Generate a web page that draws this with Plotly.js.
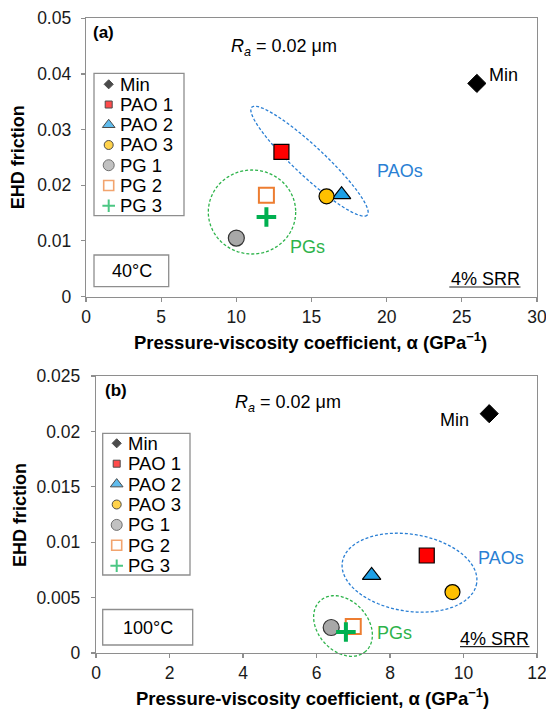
<!DOCTYPE html>
<html>
<head>
<meta charset="utf-8">
<script src="https://cdn.plot.ly/plotly-3.0.1.min.js"></script>
<style>html,body{margin:0;padding:0;background:#fff;}#chart{width:546px;height:709px;}</style>
</head>
<body>
<div id="chart"></div>
<script>
// ---------------- data ----------------
const series = ['Min', 'PAO 1', 'PAO 2', 'PAO 3', 'PG 1', 'PG 2', 'PG 3'];
const alpha40 = [26, 13, 17, 16, 10, 12, 12];
const friction40 = [0.0383, 0.026, 0.0183, 0.018, 0.0105, 0.0182, 0.0143];
const alpha100 = [10.7, 9.0, 7.5, 9.7, 6.4, 7.0, 6.8];
const friction100 = [0.0216, 0.0088, 0.007, 0.0055, 0.0023, 0.0024, 0.0019];

const xTicksA = [0, 5, 10, 15, 20, 25, 30];
const xTickTextA = ['0', '5', '10', '15', '20', '25', '30'];
const yTicksA = [0, 0.01, 0.02, 0.03, 0.04, 0.05];
const yTickTextA = ['0', '0.01', '0.02', '0.03', '0.04', '0.05'];
const xTicksB = [0, 2, 4, 6, 8, 10, 12];
const xTickTextB = ['0', '2', '4', '6', '8', '10', '12'];
const yTicksB = [0, 0.005, 0.01, 0.015, 0.02, 0.025];
const yTickTextB = ['0', '0.005', '0.01', '0.015', '0.02', '0.025'];

// ---------------- styles ----------------
const W = 546, H = 709;
const PX = x => x / W;
const PY = y => 1 - y / H;
const FONT = 'Liberation Sans, Arial, Helvetica, sans-serif';
const GRAY = '#8e8e8e';
const TXT = '#1a1a1a';
const BLUE = '#2a7fd4';
const GREEN = '#2db34a';

const styles = {
  'Min':   {symbol: 'diamond',     color: '#000000', line: '#000000', lw: 1,   size: 14, lsize: 7,  llw: 1},
  'PAO 1': {symbol: 'square',      color: '#ff0000', line: '#000000', lw: 1.2, size: 15, lsize: 7,  llw: 1},
  'PAO 2': {symbol: 'triangle-up', color: '#1ea0e6', line: '#000000', lw: 1.2, size: 16, lsize: 11, llw: 1},
  'PAO 3': {symbol: 'circle',      color: '#ffc000', line: '#000000', lw: 1.2, size: 15, lsize: 9,  llw: 1},
  'PG 1':  {symbol: 'circle',      color: '#a8a8a8', line: '#333333', lw: 1.2, size: 16, lsize: 11, llw: 1},
  'PG 2':  {symbol: 'square-open', color: '#ed7d31', line: '#ed7d31', lw: 2,   size: 15, lsize: 10, llw: 1.6},
  'PG 3':  {symbol: 'cross-thin',  color: '#00b050', line: '#00b050', lw: 4,   size: 14, lsize: 9,  llw: 2}
};

const traces = [];
function addPanel(xs, ys, xa, ya) {
  series.forEach((s, i) => {
    const st = styles[s];
    traces.push({
      type: 'scatter', mode: 'markers', name: s, showlegend: false,
      x: [xs[i]], y: [ys[i]], xaxis: xa, yaxis: ya, cliponaxis: false,
      marker: {symbol: st.symbol, size: st.size, color: st.color, line: {color: st.line, width: st.lw}}
    });
  });
}
addPanel(alpha40, friction40, 'x', 'y');
addPanel(alpha100, friction100, 'x2', 'y2');

// legend markers (drawn on a hidden pixel-space overlay axis)
const annotations = [];
function addLegend(mx, tx, y0, dy) {
  traces.push({
    type: 'scatter', mode: 'markers', showlegend: false, xaxis: 'x3', yaxis: 'y3', cliponaxis: false,
    x: series.map(() => mx), y: series.map((s, i) => y0 + i * dy),
    marker: {
      symbol: series.map(s => styles[s].symbol),
      size: series.map(s => styles[s].lsize),
      color: series.map(s => styles[s].color),
      line: {color: series.map(s => styles[s].line), width: series.map(s => styles[s].llw)}
    }
  });
  series.forEach((s, i) => {
    annotations.push({xref: 'paper', yref: 'paper', x: PX(tx), y: PY(y0 + i * dy), xanchor: 'left', yanchor: 'middle',
      text: s, showarrow: false, font: {family: FONT, size: 18.5, color: '#000'}});
  });
}
addLegend(108.7, 117.5, 84.3, 20.23);
addLegend(116.7, 126, 443.3, 20.4);

function txt(text, x, y, opts) {
  annotations.push(Object.assign({xref: 'paper', yref: 'paper', x: PX(x), y: PY(y), xanchor: 'center', yanchor: 'middle',
    text: text, showarrow: false, font: {family: FONT, size: 18, color: '#000'}}, opts || {}));
}
// panel (a)
txt('<b>(a)</b>', 90.7, 32.3, {xanchor: 'left', font: {family: FONT, size: 17, color: '#000'}});
txt('<i>R</i><sub><i>a</i></sub> = 0.02 μm', 284, 47);
txt('Min', 503.5, 75);
txt('PAOs', 400, 171, {font: {family: FONT, size: 18, color: BLUE}});
txt('PGs', 307, 246.5, {font: {family: FONT, size: 18, color: GREEN}});
txt('40°C', 131.5, 271);
txt('4% SRR', 485, 279.3);
txt('<b>EHD friction</b>', 18.2, 157, {textangle: -90, font: {family: FONT, size: 18, color: '#000'}});
txt('<b>Pressure-viscosity coefficient, α (GPa<sup>−1</sup>)</b>', 310.4, 340.5, {font: {family: FONT, size: 18.5, color: '#000'}});
// panel (b)
txt('<b>(b)</b>', 103.3, 390, {xanchor: 'left', font: {family: FONT, size: 17, color: '#000'}});
txt('<i>R</i><sub><i>a</i></sub> = 0.02 μm', 288, 403.7);
txt('Min', 454, 420);
txt('PAOs', 500.8, 557.5, {font: {family: FONT, size: 18, color: BLUE}});
txt('PGs', 394, 632.5, {font: {family: FONT, size: 18, color: GREEN}});
txt('100°C', 147.7, 627.5);
txt('4% SRR', 494.7, 639.3);
txt('<b>EHD friction</b>', 20, 515, {textangle: -90, font: {family: FONT, size: 18, color: '#000'}});
txt('<b>Pressure-viscosity coefficient, α (GPa<sup>−1</sup>)</b>', 312, 696.5, {font: {family: FONT, size: 18.5, color: '#000'}});

// ---------------- shapes ----------------
function ellipsePath(cx, cy, a, b, deg) {
  const t = deg * Math.PI / 180, n = 96;
  let d = '';
  for (let k = 0; k <= n; k++) {
    const u = 2 * Math.PI * k / n;
    const ex = a * Math.cos(u), ey = b * Math.sin(u);
    const X = cx + ex * Math.cos(t) - ey * Math.sin(t);
    const Y = cy + ex * Math.sin(t) + ey * Math.cos(t);
    d += (k === 0 ? 'M' : 'L') + PX(X).toFixed(5) + ',' + PY(Y).toFixed(5);
  }
  return d + 'Z';
}
const shapes = [];
function ell(cx, cy, a, b, deg, color) {
  shapes.push({type: 'path', xref: 'paper', yref: 'paper', layer: 'below', path: ellipsePath(cx, cy, a, b, deg),
    line: {color: color, width: 1.3, dash: '3px,2px'}, fillcolor: 'rgba(0,0,0,0)'});
}
function box(x0, y0, x1, y1) {
  shapes.push({type: 'rect', xref: 'paper', yref: 'paper', layer: 'below', x0: PX(x0), x1: PX(x1), y0: PY(y0), y1: PY(y1),
    line: {color: GRAY, width: 1.3}, fillcolor: 'rgba(0,0,0,0)'});
}
function uline(x0, x1, y) {
  shapes.push({type: 'line', xref: 'paper', yref: 'paper', x0: PX(x0), x1: PX(x1), y0: PY(y), y1: PY(y),
    line: {color: '#222', width: 1.2}});
}
ell(309.5, 161.2, 79, 15, 43, BLUE);
ell(252, 212, 43.7, 42, 0, GREEN);
ell(409.5, 572.7, 68, 38.5, 9, BLUE);
ell(343, 626, 34, 25, 48, GREEN);
box(94, 73.3, 184, 215.7);
box(94, 255, 168.7, 286.7);
box(102.7, 433.3, 190, 575);
box(102.7, 609.5, 192.7, 645);
uline(449.3, 520.5, 287);
uline(460, 529.5, 646.7);

function axis(dom, rng, tv, tt, anchor, extra) {
  return Object.assign({domain: dom, range: rng, tickmode: 'array', tickvals: tv, ticktext: tt, anchor: anchor,
    ticks: 'outside', ticklen: 4, tickwidth: 1.2, tickcolor: GRAY, showline: true, linecolor: GRAY, linewidth: 1.3,
    mirror: true, showgrid: false, zeroline: false, fixedrange: true, ticklabeloverflow: 'allow',
    tickfont: {family: FONT, size: 17.5, color: TXT}}, extra || {});
}

const layout = {
  width: W, height: H, margin: {l: 0, r: 0, t: 0, b: 0}, showlegend: false,
  paper_bgcolor: '#ffffff', plot_bgcolor: 'rgba(0,0,0,0)',
  font: {family: FONT, color: TXT},
  xaxis: axis([PX(86), PX(537)], [0, 30], xTicksA, xTickTextA, 'y'),
  yaxis: axis([PY(296.5), PY(18.3)], [0, 0.05], yTicksA, yTickTextA, 'x', {ticklabelstandoff: 6}),
  xaxis2: axis([PX(96), PX(537)], [0, 12], xTicksB, xTickTextB, 'y2'),
  yaxis2: axis([PY(653), PY(376)], [0, 0.025], yTicksB, yTickTextB, 'x2', {ticklabelstandoff: 7}),
  xaxis3: {domain: [0, 1], range: [0, W], visible: false, anchor: 'y3', fixedrange: true},
  yaxis3: {domain: [0, 1], range: [H, 0], visible: false, anchor: 'x3', fixedrange: true},
  annotations: annotations,
  shapes: shapes
};

Plotly.newPlot('chart', traces, layout, {staticPlot: true, displayModeBar: false});
</script>
</body>
</html>
